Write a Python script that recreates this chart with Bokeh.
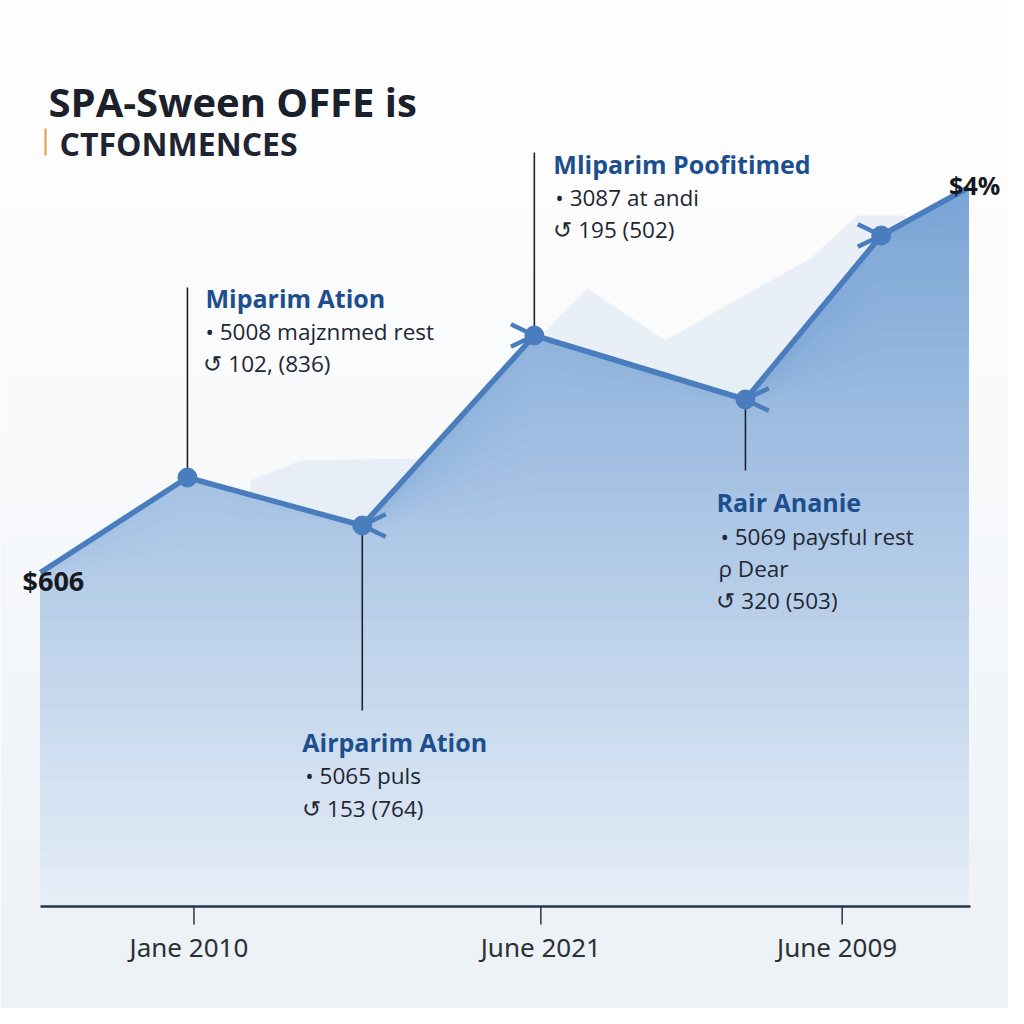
import numpy as np
from bokeh.plotting import figure
from bokeh.models import Label, BoxAnnotation, Range1d
from bokeh.core.properties import value
from bokeh.embed import file_html
from bokeh.resources import INLINE

# ---------------- data ----------------
period_x = [0.0, 1.58, 3.46, 5.31, 7.58, 9.04, 9.98]
values = [334, 429, 381, 571, 507, 671, 719]

backdrop_x = [2.26, 2.80, 4.09, 5.88, 6.72, 7.47, 8.28, 8.78, 9.28, 9.68]
backdrop_y = [426, 446, 448, 618, 566, 606, 648, 691, 691, 666]

axis_span = [0.0, 10.0]
tick_positions = [1.65, 5.38, 8.62]
tick_labels = ["Jane 2010", "June 2021", "June 2009"]

start_label = "$606"
end_label = "$4%"

title_text = "SPA-Sween OFFE is"
subtitle_text = "CTFONMENCES"

callout_index = [1, 2, 3, 4]
callout_titles = ["Miparim Ation", "Airparim Ation", "Mliparim Poofitimed", "Rair Ananie"]
callout_bodies = [
    ["\u2022 5008 majznmed rest", "\u21ba 102, (836)"],
    ["\u2022 5065 puls", "\u21ba 153 (764)"],
    ["\u2022 3087 at andi", "\u21ba 195 (502)"],
    ["\u2022 5069 paysful rest", "\u03c1 Dear", "\u21ba 320 (503)"],
]
chevron_index = [2, 3, 4, 5]
chevron_dir = ["right", "left", "right", "left"]

# ---------------- layout (positions / styles) ----------------
leader_end = [619, 196, 754, 436]
title_y = [609, 165, 743, 405]
title_dx = [18, -60, 19, -29]
body_y = [[575, 543], [131, 98], [709, 677], [370, 338, 306]]
body_dx = [[18, 16], [-57, -60], [21, 19], [-25, -27, -29]]

LINE = "#4a7dbd"
W, H = 1008, 1008
PX = 93.0  # pixels per x unit
X0 = 40    # canvas x of x=0
Y0 = 906   # canvas y of y=0
p = figure(width=W, height=H, output_backend="svg", toolbar_location=None,
           x_range=Range1d(-X0 / PX, (W - X0) / PX), y_range=Range1d(-(H - Y0), Y0),
           min_border=0, x_axis_location=None, y_axis_location=None,
           background_fill_color="#f9fbfc", border_fill_color="#f9fbfc")
p.outline_line_color = None
p.xgrid.visible = False
p.ygrid.visible = False

# background vertical gradient bands
nb = 30
edges = np.linspace(-(H - Y0), Y0, nb + 1)
c_bot = np.array([237, 242, 247])
c_top = np.array([253, 253, 254])
cols = []
for i in range(nb):
    f = min(1.0, i / (nb - 1) * 1.25)
    c = (c_bot * (1 - f) + c_top * f).astype(int)
    cols.append("#%02x%02x%02x" % tuple(c))
p.quad(left=-X0 / PX, right=(W - X0) / PX, bottom=edges[:-1], top=edges[1:] + 0.5,
       fill_color=cols, line_color=None)

# backdrop mountains
bx = [backdrop_x[0]] + backdrop_x + [backdrop_x[-1]]
by = [0] + backdrop_y + [0]
p.patch(bx, by, fill_color="#e4ecf5", line_color=None, fill_alpha=0.85)

# gradient area under the line
vals = np.array(values, dtype=float)
N = 40
top = vals.max()
g_bot = np.array([229, 237, 247])
g_top = np.array([124, 166, 215])
for k in range(N):
    t = top * k / N
    f = k / (N - 1)
    c = (g_bot * (1 - f) + g_top * f).astype(int)
    p.varea(x=period_x, y1=np.minimum(t, vals), y2=vals,
            fill_color="#%02x%02x%02x" % tuple(c))

# leader lines
lx = [period_x[i] for i in callout_index]
ly = [values[i] for i in callout_index]
p.segment(x0=lx, y0=ly, x1=lx, y1=leader_end, line_color="#1f2328", line_width=1.6)

# main line + markers
p.line(period_x, values, line_color=LINE, line_width=5.5, line_join="round")
p.scatter(period_x[1:6], values[1:6], size=19, fill_color=LINE, line_color=LINE)

# chevrons
cx, cy, ca = [], [], []
for i, d in zip(chevron_index, chevron_dir):
    base = 0.0 if d == "right" else np.pi
    for s in (1, -1):
        cx.append(period_x[i]); cy.append(values[i])
        ca.append(base + s * 0.45)
p.ray(x=cx, y=cy, length=26, angle=ca, length_units="screen",
      line_color=LINE, line_width=4.5)

# x axis drawn on the plot's scales
p.segment(x0=[axis_span[0]], y0=[0], x1=[axis_span[1]], y1=[0],
          line_color="#253746", line_width=2.5)
p.segment(x0=tick_positions, y0=[0] * 3, x1=tick_positions, y1=[-18] * 3,
          line_color="#253746", line_width=1.5)
p.text(x=tick_positions, y=[-40] * 3, text=tick_labels, x_offset=[-5, 0, -5],
       text_font=value("Noto Sans"), text_font_size="26px", text_color="#2b2f36",
       text_align="center", text_baseline="middle")

# callout texts
for j, idx in enumerate(callout_index):
    p.add_layout(Label(x=period_x[idx], y=title_y[j], x_offset=title_dx[j], text=callout_titles[j],
                       text_font="Open Sans", text_font_style="bold", text_font_size="25px",
                       text_color="#1d4f8f", text_baseline="middle", text_align="left"))
    for ln, yy, dx in zip(callout_bodies[j], body_y[j], body_dx[j]):
        p.add_layout(Label(x=period_x[idx], y=yy, x_offset=dx, text=ln,
                           text_font="Open Sans", text_font_size="22.5px",
                           text_color="#1e2732", text_baseline="middle", text_align="left"))

# value labels at ends
p.add_layout(Label(x=period_x[0], y=values[0], x_offset=-18, y_offset=-8, text=start_label,
                   text_font="Open Sans", text_font_style="bold", text_font_size="27px",
                   text_color="#151a22", text_baseline="middle", text_align="left"))
p.add_layout(Label(x=period_x[-1], y=values[-1], x_offset=6, y_offset=3, text=end_label,
                   text_font="Open Sans", text_font_style="bold", text_font_size="25px",
                   text_color="#151a22", text_baseline="middle", text_align="center"))

# titles
p.add_layout(Label(x=0.086, y=805, text=title_text, text_font="Open Sans",
                   text_font_style="bold", text_font_size="40px", text_color="#1b212b",
                   text_baseline="middle", text_align="left"))
p.add_layout(Label(x=0.205, y=763, text=subtitle_text, text_font="Open Sans",
                   text_font_style="bold", text_font_size="32px", text_color="#1e2530",
                   text_baseline="middle", text_align="left"))
p.add_layout(BoxAnnotation(left=0.043, right=0.065, bottom=751, top=778,
                           fill_color="#d9a441", fill_alpha=1, line_color=None))

open("out.html", "w").write(file_html(p, INLINE))
